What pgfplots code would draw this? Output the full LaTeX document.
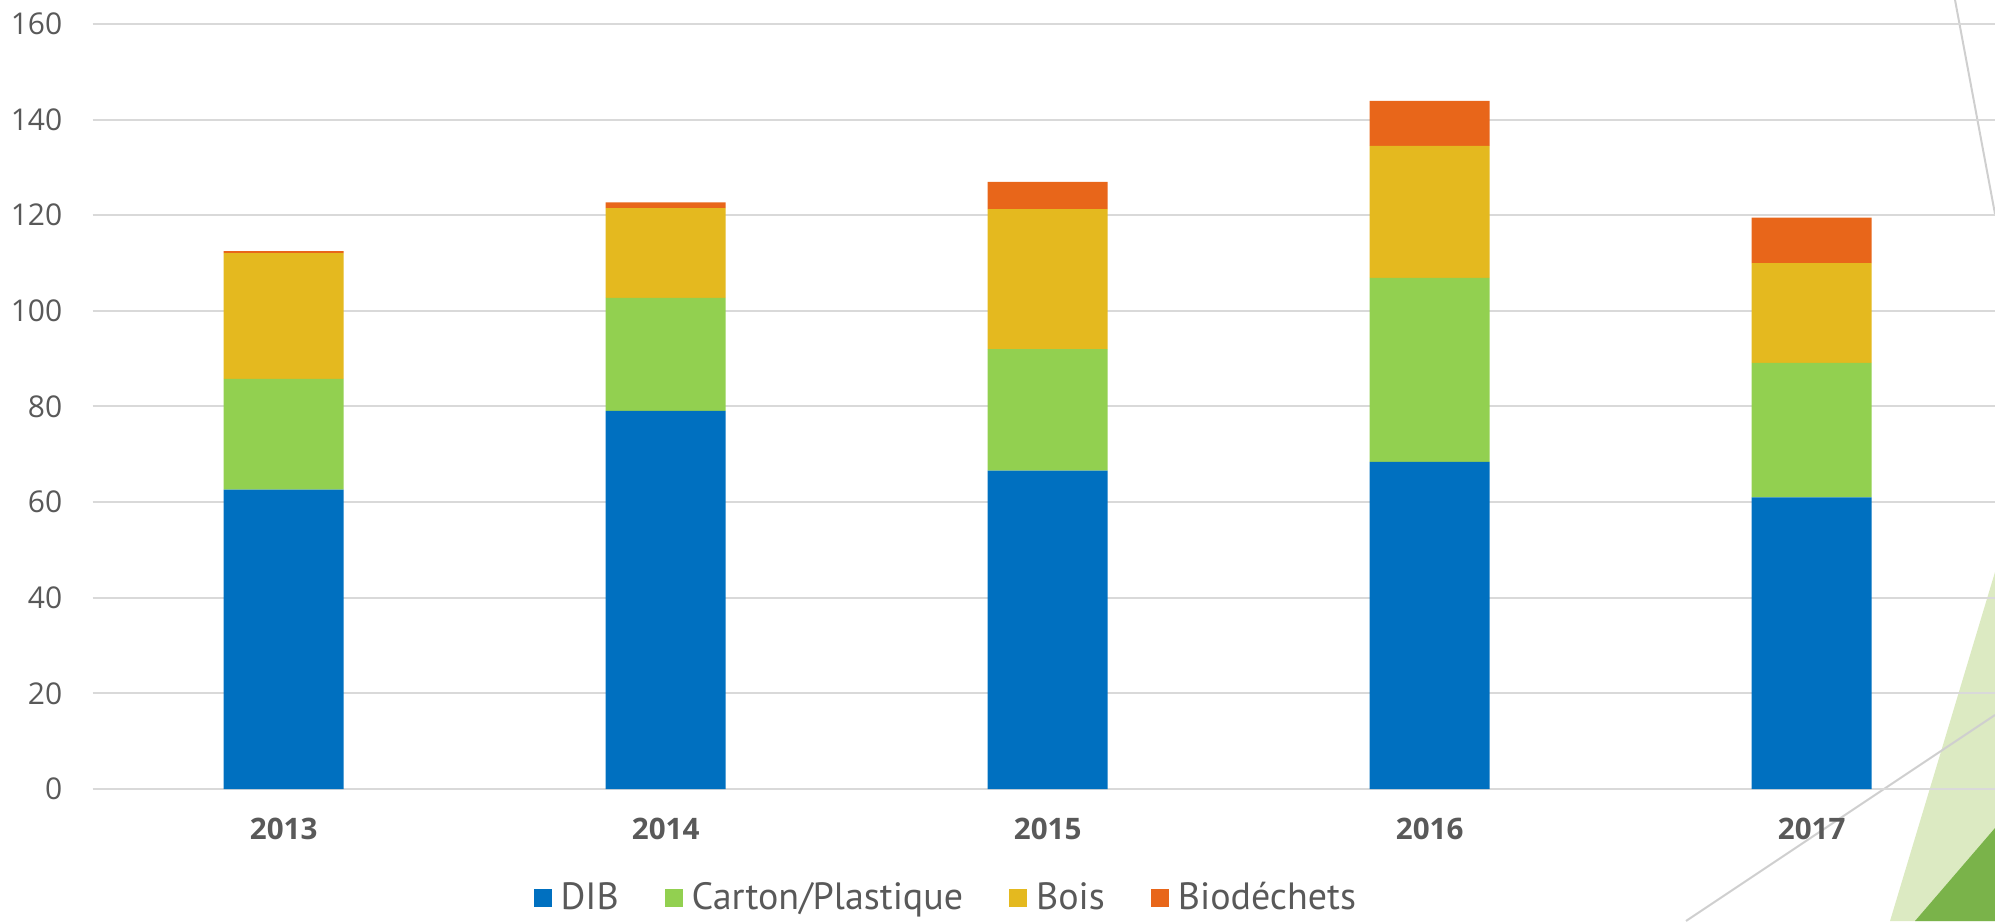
\documentclass[border=0pt]{standalone}
\usepackage{pgfplots}
\pgfplotsset{compat=1.18}
\usepackage{fontspec}
\setmainfont{Open Sans}
\newfontfamily\legfont{PT Sans}
\definecolor{cDIB}{HTML}{0070C0}
\definecolor{cCarton}{HTML}{92D050}
\definecolor{cBois}{HTML}{E4B91F}
\definecolor{cBio}{HTML}{E8661A}
\definecolor{gridc}{HTML}{D9D9D9}
\definecolor{textc}{HTML}{595959}
\definecolor{lgreen}{HTML}{DCEAC2}
\definecolor{dgreen}{HTML}{7AB34A}
\definecolor{decoline}{HTML}{CFCFCF}
\begin{document}
\begin{tikzpicture}[x=0.5pt,y=0.5pt]
\useasboundingbox (0,0) rectangle (1995,921);
\clip (0,0) rectangle (1995,921);
% slide decoration
\fill[lgreen] (1995,349) -- (1995,0) -- (1890,0) -- cycle;
\fill[dgreen] (1995,93) -- (1995,0) -- (1915,0) -- cycle;
\draw[decoline, line width=1pt] (1955,921) -- (1995,707);
\draw[decoline, line width=1pt] (1686,0) -- (1995,206);
\begin{axis}[
  at={(46.35pt,66pt)}, anchor=south west,
  scale only axis, width=951.15pt, height=382.5pt,
  ybar stacked, bar width=60pt,
  xmin=-0.5, xmax=4.48, ymin=0, ymax=160,
  xtick=data, xticklabels={2013,2014,2015,2016,2017},
  ytick={0,20,40,60,80,100,120,140,160},
  ymajorgrids, grid style={line width=1pt, color=gridc},
  axis line style={draw=none}, major tick length=0pt,
  tick label style={text=textc},
  /pgf/number format/assume math mode=true,
  yticklabel style={font=\fontsize{15}{18}\selectfont, inner sep=0pt, xshift=-15pt},
  xticklabel style={font=\bfseries\fontsize{14.8}{17}\selectfont, anchor=base, inner sep=0pt, yshift=-25pt},
  legend columns=4,
  legend image code/.code={\fill[#1] (0pt,-4.5pt) rectangle (9pt,4.5pt);},
  legend style={at={(0.449,-0.142)}, anchor=center, draw=none, fill=none,
    font=\legfont\fontsize{19}{22}\selectfont, text=textc,
    /tikz/every odd column/.append style={column sep=2.5pt},
    /tikz/every even column/.append style={column sep=21pt}},
  legend cell align=left,
]
\addplot[fill=cDIB, draw=none] coordinates {(0,62.6) (1,79.1) (2,66.6) (3,68.4) (4,61.0)};
\addplot[fill=cCarton, draw=none] coordinates {(0,23.2) (1,23.6) (2,25.4) (3,38.5) (4,28.1)};
\addplot[fill=cBois, draw=none] coordinates {(0,26.3) (1,18.8) (2,29.3) (3,27.6) (4,20.9)};
\addplot[fill=cBio, draw=none] coordinates {(0,0.4) (1,1.2) (2,5.7) (3,9.4) (4,9.5)};
\legend{DIB, Carton/Plastique, Bois, Biodéchets}
\end{axis}
\end{tikzpicture}
\end{document}
